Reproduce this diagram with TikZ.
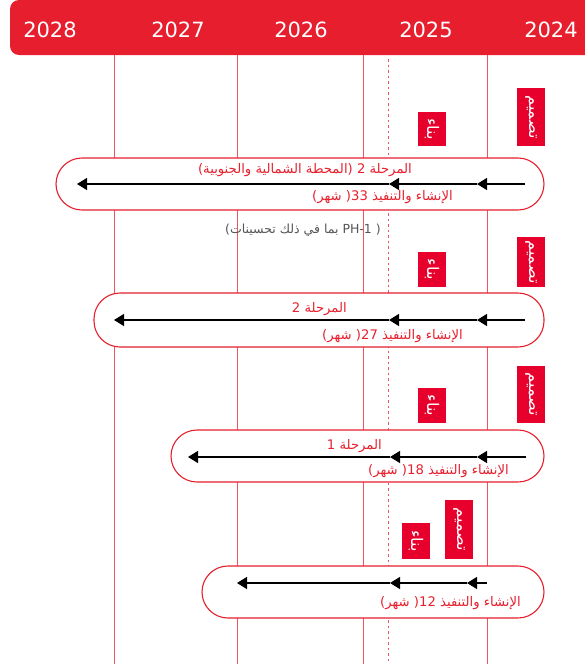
\documentclass[tikz,border=0pt]{standalone}
\usepackage{fontspec}
\setmainfont{DejaVu Sans}
\newfontfamily\arabicfont[Script=Arabic]{DejaVu Sans}
\TeXXeTstate=1
\usetikzlibrary{arrows.meta}
\newcommand{\AR}[1]{{\arabicfont\beginR #1\endR}}
\definecolor{hdr}{HTML}{E61E2D}
\definecolor{lblred}{HTML}{E8002D}
\definecolor{txtred}{HTML}{E8202E}
\definecolor{vline}{HTML}{EE5560}
\definecolor{graytxt}{HTML}{555555}
\begin{document}
\begin{tikzpicture}[x=1pt,y=-1pt,
  year/.style={text=white, font=\fontsize{21}{24}\selectfont, inner sep=0pt},
  vl/.style={vline, line width=0.9pt},
  pill/.style={draw=hdr, fill=white, line width=1.1pt, rounded corners=26pt, inner sep=0pt},
  lbl/.style={fill=lblred, text=white, rotate=-90, minimum height=28pt, inner sep=0pt, font=\arabicfont\fontsize{16}{18}\selectfont},
  rtxt/.style={text=txtred, inner sep=0pt, font=\arabicfont\fontsize{13.2}{15}\selectfont},
  gtxt/.style={text=graytxt, inner sep=0pt, font=\arabicfont\fontsize{12.5}{14}\selectfont},
  arr/.style={black, line width=1.2pt, -{Triangle[length=10pt,width=12pt]}}
]
\useasboundingbox (0,0) rectangle (585,664);
% header
\fill[hdr, rounded corners=9pt] (585,0) -- (10,0) -- (10,55) -- (585,55);
\node[year] (y2028) at (50,30) {2028};
\node[year] (y2027) at (178,30) {2027};
\node[year] (y2026) at (301,30) {2026};
\node[year] (y2025) at (426,30) {2025};
\node[year] (y2024) at (551,30) {2024};
% vertical lines
\draw[vl] (114,55) -- (114,664);
\draw[vl] (237,55) -- (237,664);
\draw[vl] (363,55) -- (363,664);
\draw[vl] (487,55) -- (487,664);
\draw[vl, dash pattern=on 2.5pt off 3pt] (388,59) -- (388,664);

% group 1
\node[lbl, minimum width=58pt] (d1) at (531,117) {\AR{تصميم}};
\node[lbl, minimum width=34pt] (b1) at (432,129) {\AR{بناء}};
\node[pill, minimum width=488pt, minimum height=52pt] (p1) at (300,184) {};
\node[rtxt, anchor=east] (t1a) at (412,170) {)\AR{المحطة الشمالية والجنوبية}( 2 \AR{المرحلة}};
\node[rtxt, anchor=east] (t1b) at (453,197) {)\AR{شهر} 33( \AR{الإنشاء والتنفيذ}};
\coordinate (a1s) at (525,184);
\coordinate (a1m) at (477,184);
\coordinate (a1n) at (389,184);
\coordinate (a1e) at (77,184);
\draw[arr] (a1s) -- (a1m);
\draw[arr] (a1m) -- (a1n);
\draw[arr] (a1n) -- (a1e);
\node[gtxt, anchor=east] (g1) at (381,230) {)\AR{بما في ذلك تحسينات} PH-1 (};

% group 2
\node[lbl, minimum width=50pt] (d2) at (531,262) {\AR{تصميم}};
\node[lbl, minimum width=35pt] (b2) at (432,269.5) {\AR{بناء}};
\node[pill, minimum width=450pt, minimum height=54pt] (p2) at (319,320) {};
\node[rtxt, anchor=east] (t2a) at (347,309) {2 \AR{المرحلة}};
\node[rtxt, anchor=east] (t2b) at (463,336) {)\AR{شهر} 27( \AR{الإنشاء والتنفيذ}};
\coordinate (a2s) at (525,320);
\coordinate (a2m) at (477,320);
\coordinate (a2n) at (389,320);
\coordinate (a2e) at (114,320);
\draw[arr] (a2s) -- (a2m);
\draw[arr] (a2m) -- (a2n);
\draw[arr] (a2n) -- (a2e);

% group 3
\node[lbl, minimum width=57pt] (d3) at (531,394.5) {\AR{تصميم}};
\node[lbl, minimum width=35pt] (b3) at (432,405.5) {\AR{بناء}};
\node[pill, minimum width=373pt, minimum height=52pt] (p3) at (357.5,456) {};
\node[rtxt, anchor=east] (t3a) at (382,446) {1 \AR{المرحلة}};
\node[rtxt, anchor=east] (t3b) at (509,471) {)\AR{شهر} 18( \AR{الإنشاء والتنفيذ}};
\coordinate (a3s) at (526,457);
\coordinate (a3m) at (477,457);
\coordinate (a3n) at (390,457);
\coordinate (a3e) at (188,457);
\draw[arr] (a3s) -- (a3m);
\draw[arr] (a3m) -- (a3n);
\draw[arr] (a3n) -- (a3e);

% group 4
\node[lbl, minimum width=59pt] (d4) at (459,529.5) {\AR{تصميم}};
\node[lbl, minimum width=36pt] (b4) at (416,541) {\AR{بناء}};
\node[pill, minimum width=342pt, minimum height=52pt] (p4) at (373,592) {};
\node[rtxt, anchor=east] (t4b) at (521,603) {)\AR{شهر} 12( \AR{الإنشاء والتنفيذ}};
\coordinate (a4s) at (487,583);
\coordinate (a4m) at (467,583);
\coordinate (a4n) at (390,583);
\coordinate (a4e) at (237,583);
\draw[arr] (a4s) -- (a4m);
\draw[arr] (a4m) -- (a4n);
\draw[arr] (a4n) -- (a4e);
\end{tikzpicture}
\end{document}
